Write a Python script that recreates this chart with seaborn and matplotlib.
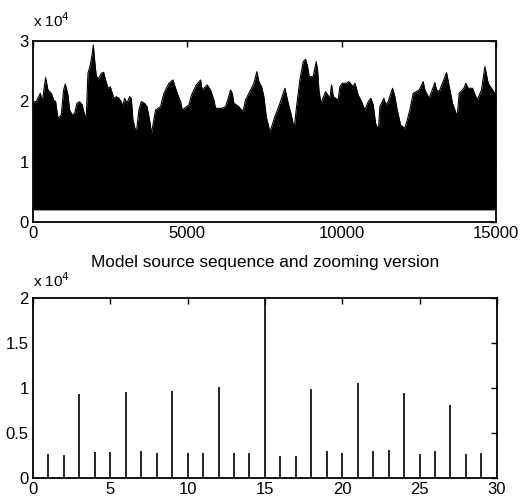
import numpy as np
import matplotlib
matplotlib.use("Agg")
import matplotlib.pyplot as plt
import seaborn as sns

# top panel: upper envelope of the dense 15000-sample sequence
env_x = [0, 108, 238, 302, 410, 486, 594, 670, 734, 810, 918, 994, 1048, 1134, 1188,
         1274, 1350, 1426, 1512, 1598, 1674, 1728, 1782, 1858, 1922, 1955, 1998, 2052,
         2138, 2214, 2290, 2354, 2430, 2506, 2570, 2624, 2700, 2786, 2862, 2916, 2970,
         3046, 3132, 3186, 3240, 3348, 3434, 3510, 3618, 3694, 3780, 3840,
         3974, 4136, 4244, 4406, 4536, 4676, 4784, 4838, 5054, 5140, 5292, 5432, 5486,
         5648, 5756, 5864, 5918, 6134, 6242, 6328, 6404, 6458, 6512, 6674, 6804, 6890,
         7052, 7160, 7257, 7322, 7408, 7484, 7560, 7680,
         7841, 8003, 8111, 8165, 8273, 8359, 8467, 8543, 8651, 8759, 8835, 8899, 8953,
         9083, 9180, 9223, 9267, 9331, 9483, 9623, 9677, 9731, 9893, 9947, 10023, 10163,
         10239, 10379, 10433, 10541, 10649, 10757, 10865, 10951, 11027, 11103, 11194,
         11243, 11373, 11437, 11513, 11653, 11729, 11783, 11913, 12053, 12129, 12215,
         12323, 12517, 12647, 12701, 12841, 13025, 13079, 13165, 13403, 13511, 13597,
         13749, 13813, 13965, 14029, 14105, 14245, 14397, 14537, 14645, 14753, 14861, 15000]
env_y = [19950, 19950, 21340, 19950, 23930, 21890, 21340, 20230, 19950, 17190, 17740,
         21890, 22880, 21060, 18570, 17740, 18020, 19680, 19950, 19400, 17740, 17470,
         24650, 26030, 27970, 29350, 26860, 24100, 23820, 24650, 24820, 23550, 22170,
         22440, 21340, 20510, 20780, 20510, 19950, 19130, 20510, 19680, 20780, 20510,
         16910, 14700, 18570, 19950, 19680, 19130, 16910, 14700,
         18570, 19130, 21340, 23000, 23550, 21340, 19950, 18570, 19400, 21060, 22720,
         23550, 21890, 22720, 21890, 20230, 18850, 18850, 19130, 20510, 21890, 21340,
         19680, 19130, 18300, 20230, 21890, 23000, 24930, 23270, 22440, 20780, 17470, 14900,
         17470, 19680, 21340, 22170, 19680, 18020, 15500, 19130, 23550, 26590, 26970,
         25760, 24100, 24100, 26590, 25200, 21890, 19680, 21610, 20510, 22720, 20780,
         20230, 22440, 23000, 23000, 23270, 22440, 23000, 21060, 19950, 18570, 19950,
         20510, 19400, 16360, 15200,
         19130, 20510, 19400, 19950, 22170, 20780, 19130, 16090, 15530, 16910, 18570,
         21340, 21890, 23270, 21890, 20510, 23110, 21890, 21610, 24760, 21890, 19680,
         17470, 21340, 22170, 23000, 22170, 22170, 20230, 21890, 25760, 23000, 22170, 21060]
floor_val = 2000

# bottom panel: first 30 samples (zoomed version)
zoom_n = list(range(30))
zoom_vals = [0, 2700, 2580, 9340, 2840, 2900, 9480, 2990, 2770, 9670,
             2770, 2800, 10070, 2800, 2730, 20000, 2470, 2470, 9850, 2950,
             2800, 10500, 3030, 3140, 9370, 2660, 2990, 8080, 2690, 2770]

sns.set_theme(style="white")
plt.rcParams["font.family"] = ["Liberation Sans", "DejaVu Sans"]
plt.rcParams["text.color"] = "black"
plt.rcParams["axes.titlecolor"] = "black"

fig = plt.figure(figsize=(5.23, 5.01), dpi=100)
ax1 = fig.add_axes([0.063, 0.557, 0.885, 0.361])
ax2 = fig.add_axes([0.063, 0.046, 0.887, 0.360])

ax1.fill_between(env_x, floor_val, env_y, color="black", linewidth=0)
sns.lineplot(x=env_x, y=env_y, ax=ax1, color="black", linewidth=0.8)
ax1.set_xlim(0, 15000)
ax1.set_ylim(0, 30000)
ax1.set_xticks([0, 5000, 10000, 15000])
ax1.set_xticklabels(["0", "5000", "10000", "15000"])
ax1.set_yticks([0, 10000, 20000, 30000])
ax1.set_yticklabels(["0", "1", "2", "3"])
ax1.text(0.0, 1.06, r"x 10$^4$", transform=ax1.transAxes, fontsize=11,
         ha="left", va="bottom", color="black")

ax2.vlines(zoom_n, 0, zoom_vals, color="black", linewidth=1.2)
ax2.set_xlim(0, 30)
ax2.set_ylim(0, 20000)
ax2.set_xticks([0, 5, 10, 15, 20, 25, 30])
ax2.set_yticks([0, 5000, 10000, 15000, 20000])
ax2.set_yticklabels(["0", "0.5", "1", "1.5", "2"])
ax2.text(0.0, 1.04, r"x 10$^4$", transform=ax2.transAxes, fontsize=11,
         ha="left", va="bottom", color="black")
ax2.set_title("Model source sequence and zooming version", fontsize=12.4, pad=22,
              color="black")

for ax in (ax1, ax2):
    for s in ax.spines.values():
        s.set_color("black")
        s.set_linewidth(1.3)
    ax.tick_params(direction="in", top=True, right=True, length=4, width=1,
                   colors="black", labelsize=12, pad=3)

fig.savefig("out.png", dpi=100, facecolor="white")
